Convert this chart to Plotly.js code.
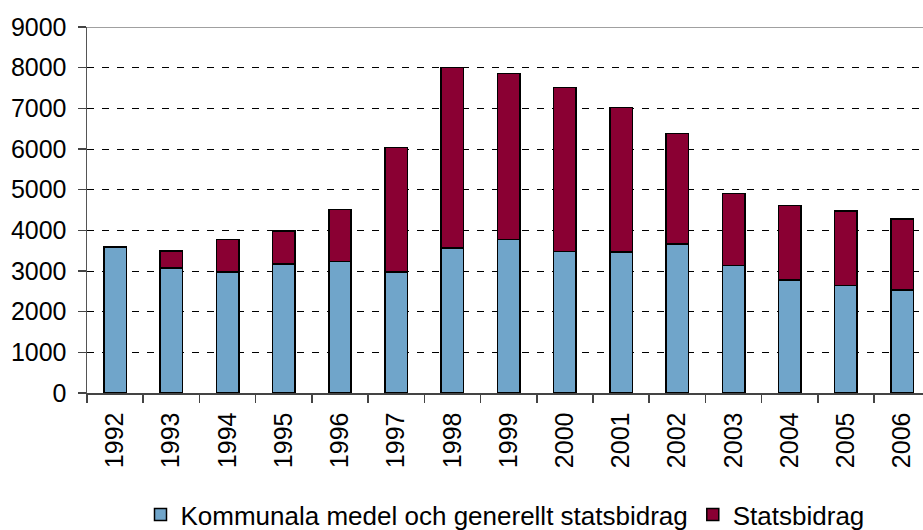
<!DOCTYPE html>
<html>
<head>
<meta charset="utf-8">
<script src="https://cdn.plot.ly/plotly-3.0.1.min.js"></script>
<style>
html,body{margin:0;padding:0;background:#fff;}
#chart{width:923px;height:530px;}
</style>
</head>
<body>
<div id="chart"></div>
<script>
var years = ["1992","1993","1994","1995","1996","1997","1998","1999","2000","2001","2002","2003","2004","2005","2006"];
var kommunala = [3590,3080,2980,3170,3230,2980,3570,3770,3475,3470,3665,3130,2780,2640,2535];
var statsbidrag = [0,410,800,810,1280,3060,4435,4090,4035,3545,2720,1780,1835,1830,1745];
var seriesNames = ["Kommunala medel och generellt statsbidrag","Statsbidrag"];
var yTicks = [0,1000,2000,3000,4000,5000,6000,7000,8000,9000];

var FONT = "Liberation Sans, Arial, sans-serif";
var traces = [
  {type:"bar", name:seriesNames[0], x:years, y:kommunala,
   marker:{color:"#70a5ca", line:{color:"#000", width:1.5}}},
  {type:"bar", name:seriesNames[1], x:years, y:statsbidrag,
   marker:{color:"#8a0033", line:{color:"#000", width:1.5}}}
];
var layout = {
  width:923, height:530,
  margin:{l:87, r:0, t:27, b:137, pad:0, autoexpand:false},
  paper_bgcolor:"#fff", plot_bgcolor:"#fff",
  barmode:"stack", bargap:0.6,
  font:{family:FONT, size:25, color:"#000"},
  xaxis:{type:"category", range:[-0.5,14.37], tickson:"boundaries", automargin:false,
    ticks:"outside", ticklen:8, tickcolor:"#444", tickwidth:1.5,
    showline:true, linecolor:"#444", linewidth:1.5, ticklabelstandoff:8,
    showgrid:false, tickangle:-90, tickfont:{size:25, family:FONT},
    fixedrange:true},
  yaxis:{range:[0,9000], tickvals:yTicks, ticks:"outside", ticklen:8, automargin:false,
    tickcolor:"#444", tickwidth:1.5, showline:true, linecolor:"#555", linewidth:1.5,
    showgrid:true, gridcolor:"#000", gridwidth:1, griddash:"7px,8px",
    zeroline:false, tickfont:{size:25, family:FONT}, ticklabelstandoff:6,
    fixedrange:true},
  shapes:[{type:"line", xref:"paper", yref:"y", x0:0, x1:1, y0:9000, y1:9000,
    line:{color:"#a0a0a0", width:2}}],
  showlegend:true,
  legend:{orientation:"h", x:0.5, xanchor:"center", yref:"paper", y:-0.268, yanchor:"top",
    font:{size:26, family:FONT}, bgcolor:"rgba(0,0,0,0)", traceorder:"normal"}
};
Plotly.newPlot("chart", traces, layout, {displayModeBar:false, staticPlot:true});
</script>
</body>
</html>
